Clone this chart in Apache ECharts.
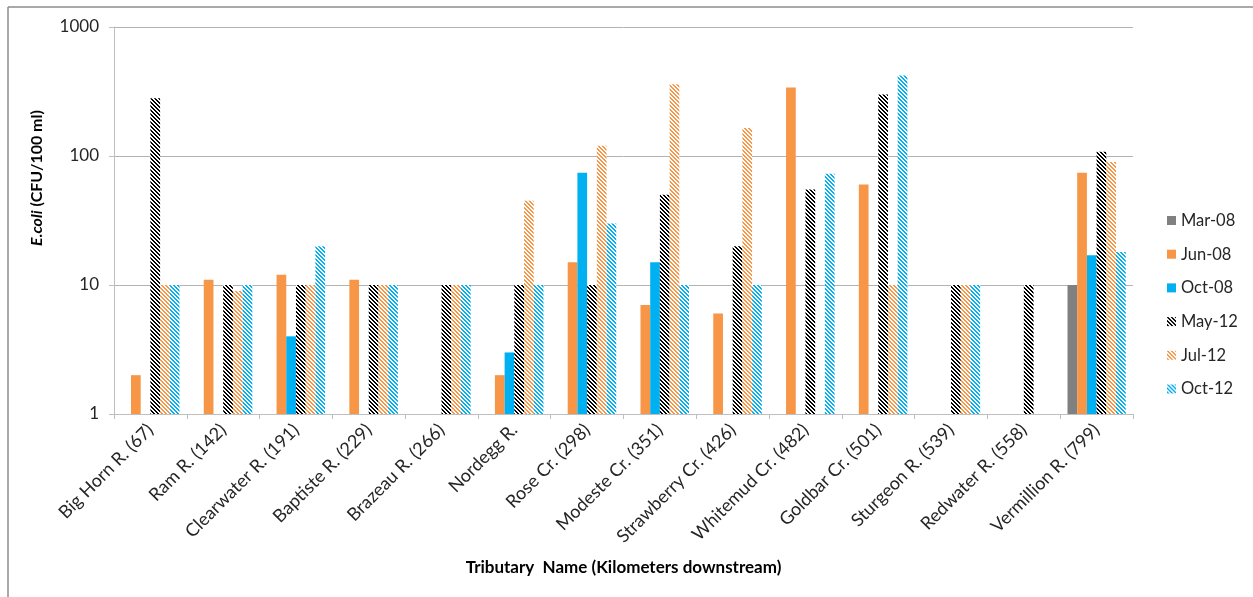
<!DOCTYPE html>
<html>
<head>
<meta charset="utf-8">
<script src="https://cdn.jsdelivr.net/npm/echarts@6/dist/echarts.min.js"></script>
<style>
html,body{margin:0;padding:0;background:#fff;}
#chart{width:1253px;height:597px;}
</style>
</head>
<body>
<div id="chart"></div>
<script>
const categories = ["Big Horn R. (67)","Ram R. (142)","Clearwater R. (191)","Baptiste R. (229)","Brazeau R. (266)","Nordegg R.","Rose Cr. (298)","Modeste Cr. (351)","Strawberry Cr. (426)","Whitemud Cr. (482)","Goldbar Cr. (501)","Sturgeon R. (539)","Redwater R. (558)","Vermillion R. (799)"];
const mar08 = [null,null,null,null,null,null,null,null,null,null,null,null,null,10];
const jun08 = [2,11,12,11,null,2,15,7,6,340,60,null,null,74];
const oct08 = [null,null,4,null,null,3,74,15,null,null,null,null,null,17];
const may12 = [280,10,10,10,10,10,10,50,20,55,300,10,10,108];
const jul12 = [10,9,10,10,10,45,120,360,165,null,10,10,null,90];
const oct12 = [10,10,20,10,10,10,30,10,10,73,420,10,null,18];
const yTicks = [1,10,100,1000];

function stripe(color){
  const c = document.createElement('canvas');
  c.width = 4; c.height = 4;
  const ctx = c.getContext('2d');
  ctx.fillStyle = '#ffffff';
  ctx.fillRect(0,0,4,4);
  ctx.fillStyle = color;
  for (let x=0;x<4;x++){
    for (let y=0;y<4;y++){
      const d = ((x - y) % 4 + 4) % 4;
      if (d === 0 || d === 1) ctx.fillRect(x,y,1,1);
    }
  }
  return {image: c, repeat: 'repeat'};
}

const chart = echarts.init(document.getElementById('chart'), null, {renderer:'canvas'});
const font = 'Lato, "Open Sans", sans-serif';
function bar(name, data, color){
  return {name, type:'bar', data, barGap:'0%', barCategoryGap:'20%',
    itemStyle:{color}, emphasis:{disabled:true}};
}
chart.setOption({
  animation:false,
  textStyle:{fontFamily:font},
  graphic:[
    {type:'line', shape:{x1:8,y1:7,x2:1253,y2:7}, style:{stroke:'#8c8c8c', lineWidth:1.5}},
    {type:'line', shape:{x1:8,y1:7,x2:8,y2:597}, style:{stroke:'#8c8c8c', lineWidth:1.5}},
    {type:'text', x:37, y:178, rotation:Math.PI/2,
      style:{text:'{i|E.coli} {b|(CFU/100 ml)}', align:'center', verticalAlign:'middle',
        fill:'#000', font:'bold 16px ' + font,
        rich:{i:{fontStyle:'italic', fontWeight:'bold', fontSize:16, fontFamily:font, fill:'#000'},
              b:{fontWeight:'bold', fontSize:16, fontFamily:font, fill:'#000'}}}}
  ],
  grid:{left:114, top:27, right:120, bottom:183},
  legend:{
    orient:'vertical', left:1162, top:207, itemWidth:9, itemHeight:9, itemGap:16.7,
    icon:'rect',
    textStyle:{fontFamily:font, fontSize:16.5, color:'#262626'},
    data:['Mar-08','Jun-08','Oct-08','May-12','Jul-12','Oct-12']
  },
  xAxis:{
    type:'category', data:categories,
    axisLine:{lineStyle:{color:'#bfbfbf'}},
    axisTick:{show:true, length:5, lineStyle:{color:'#bfbfbf'}},
    axisLabel:{rotate:45, fontSize:18, color:'#262626', fontFamily:font, margin:13, interval:0},
    name:'Tributary  Name (Kilometers downstream)', nameLocation:'middle', nameGap:145,
    nameTextStyle:{fontSize:17, fontWeight:'bold', color:'#000', fontFamily:font}
  },
  yAxis:{
    type:'log', logBase:10, min:1, max:1000,
    axisLine:{show:true, lineStyle:{color:'#bfbfbf'}},
    axisTick:{show:true, length:5, lineStyle:{color:'#bfbfbf'}},
    splitLine:{lineStyle:{color:'#b3b3b3'}},
    axisLabel:{fontSize:17, color:'#262626', fontFamily:font, margin:15,
      formatter: v => yTicks.includes(Math.round(v)) ? String(Math.round(v)) : ''}
  },
  series:[
    bar('Mar-08', mar08, '#808080'),
    bar('Jun-08', jun08, '#f79646'),
    bar('Oct-08', oct08, '#00b0f0'),
    bar('May-12', may12, stripe('#000000')),
    bar('Jul-12', jul12, stripe('#f79646')),
    bar('Oct-12', oct12, stripe('#00b0f0'))
  ]
});
</script>
</body>
</html>
